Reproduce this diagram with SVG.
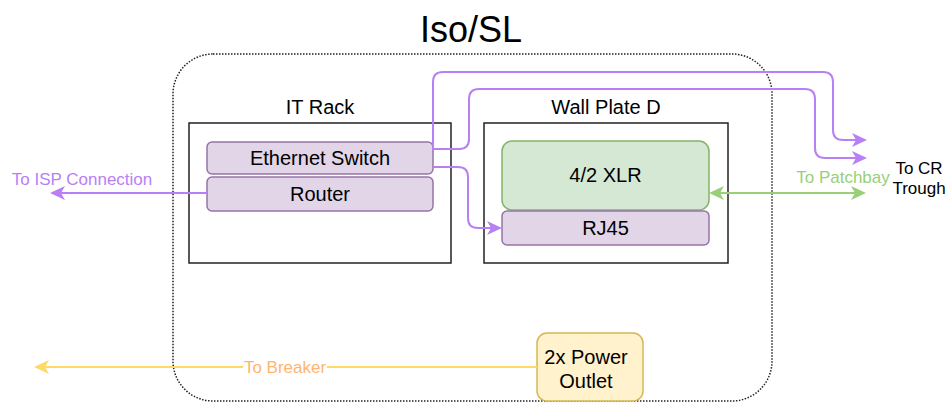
<svg xmlns="http://www.w3.org/2000/svg" width="949" height="403" viewBox="0 0 949 403">
<style>
text{font-family:"Liberation Sans",Arial,Helvetica,sans-serif;text-anchor:middle}
.n{font-size:20px;fill:#000}
.e{font-size:17px}
.box{fill:#fff;stroke:#222;stroke-width:1.5}
.pur{fill:#e1d5e7;stroke:#9673a6;stroke-width:1.5}
.grn{fill:#d5e8d4;stroke:#82b366;stroke-width:1.5}
.yel{fill:#fff2cc;stroke:#d6b656;stroke-width:1.5}
.lp{fill:none;stroke:#b980f5;stroke-width:2}
.lg{fill:none;stroke:#97d077;stroke-width:2}
.lo{fill:none;stroke:#ffd966;stroke-width:2}
</style>
<defs>
<marker id="ap" markerUnits="userSpaceOnUse" markerWidth="16" markerHeight="14" viewBox="0 0 16 14" refX="13" refY="7" orient="auto-start-reverse"><path d="M0,0 L15,7 L0,14 L4,7 Z" fill="#b980f5"/></marker>
<marker id="ag" markerUnits="userSpaceOnUse" markerWidth="16" markerHeight="14" viewBox="0 0 16 14" refX="13" refY="7" orient="auto-start-reverse"><path d="M0,0 L15,7 L0,14 L4,7 Z" fill="#97d077"/></marker>
<marker id="ao" markerUnits="userSpaceOnUse" markerWidth="16" markerHeight="14" viewBox="0 0 16 14" refX="13" refY="7" orient="auto-start-reverse"><path d="M0,0 L15,7 L0,14 L4,7 Z" fill="#ffd966"/></marker>
</defs>
<rect width="949" height="403" fill="#fff"/>
<text x="471" y="42" style="font-size:36px">Iso/SL</text>
<g id="isosl">
<rect x="173" y="54" width="599" height="347" rx="40" fill="none" stroke="#222" stroke-width="1.5" stroke-dasharray="1.5 1.5"/>
</g>
<g id="itrack">
<rect class="box" x="189" y="123" width="262" height="140"/>
<text class="n" x="320" y="114">IT Rack</text>
</g>
<g id="wallplate">
<rect class="box" x="484" y="123" width="244" height="140"/>
<text class="n" x="606" y="114">Wall Plate D</text>
</g>
<g id="ethswitch">
<rect class="pur" x="207" y="142" width="226" height="32" rx="5"/>
<text class="n" x="320" y="165">Ethernet Switch</text>
</g>
<g id="router">
<rect class="pur" x="207" y="177" width="226" height="34" rx="5"/>
<text class="n" x="320" y="201">Router</text>
</g>
<g id="xlr">
<rect class="grn" x="502" y="141" width="207" height="69" rx="10"/>
<text class="n" x="605.5" y="182">4/2 XLR</text>
</g>
<g id="rj45">
<rect class="pur" x="502" y="211" width="207" height="34" rx="5"/>
<text class="n" x="605.5" y="235">RJ45</text>
</g>
<g id="power">
<rect class="yel" x="537" y="333" width="106" height="68" rx="10"/>
<text class="n" x="586" y="364">2x Power</text>
<text class="n" x="586" y="388">Outlet</text>
</g>
<g id="connectors">
<path class="lp" d="M433,149 L433,82 Q433,72 443,72 L823,72 Q833,72 833,82 L833,130 Q833,140 843,140 L865,140" marker-end="url(#ap)"/>
<path class="lp" d="M433,149 L459,149 Q469,149 469,139 L469,99 Q469,89 479,89 L805,89 Q815,89 815,99 L815,148 Q815,158 825,158 L865,158" marker-end="url(#ap)"/>
<path class="lp" d="M433,167 L458,167 Q468,167 468,177 L468,218 Q468,228 478,228 L500,228" marker-end="url(#ap)"/>
<path class="lp" d="M207,193 L52,193" marker-end="url(#ap)"/>
<path class="lg" d="M711,193 L864,193" marker-start="url(#ag)" marker-end="url(#ag)"/>
<path class="lo" d="M537,367 L36,367" marker-end="url(#ao)"/>
<rect x="243" y="358" width="84" height="18" fill="#fff"/>
<text class="e" x="285" y="373" fill="#ffb570">To Breaker</text>
<text class="e" x="82" y="185" fill="#b980f5">To ISP Connection</text>
<text class="e" x="843" y="183" fill="#97d077">To Patchbay</text>
<text class="e" x="919" y="174" fill="#000">To CR</text>
<text class="e" x="919" y="194" fill="#000">Trough</text>
</g>
</svg>
